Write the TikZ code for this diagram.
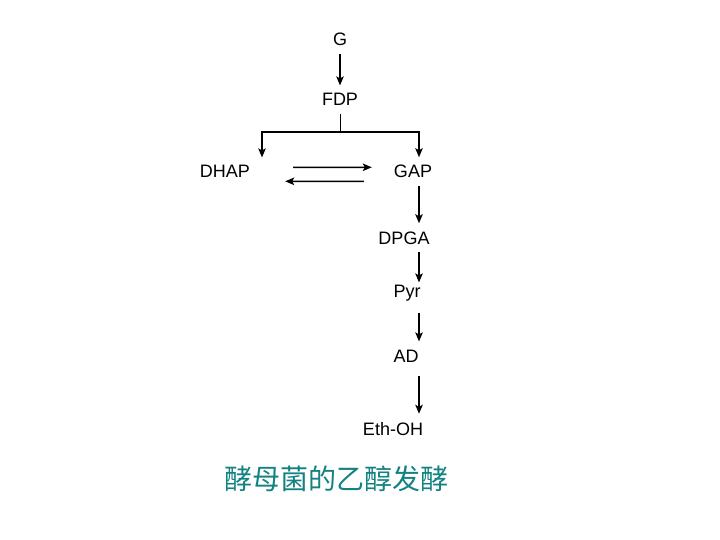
\documentclass[tikz,border=0pt]{standalone}
\usepackage{fontspec}
\setmainfont{Liberation Sans}
\newfontfamily\cjk{Noto Sans CJK SC}
\usetikzlibrary{positioning,calc}
\usetikzlibrary{arrows.meta}
\definecolor{TitleTeal}{RGB}{20,130,130}
\tikzset{
  lbl/.style={inner sep=0pt,anchor=base,font=\fontsize{18}{20}\selectfont},
  eq/.style={draw=black,line width=1.5pt,-{Stealth[length=9pt,width=7.5pt,inset=2pt]}},
  flow/.style={eq,shorten <=8pt,shorten >=8pt},
  branch/.style={eq,shorten >=8pt},
  stem/.style={draw=black,line width=0.8pt,shorten <=8pt},
  title/.style={inner sep=0pt,anchor=base,text=TitleTeal,font=\cjk\fontsize{28}{30}\selectfont},
}

\begin{document}
\begin{tikzpicture}[x=1pt,y=-1pt]
\useasboundingbox (0,0) rectangle (720,540);
\node[lbl] (G) at (340,45.5) {G};
\node[lbl] (FDP) at (340,106) {FDP};
\node[lbl] (DHAP) at (225,178) {DHAP};
\node[lbl] (GAP) at (413,178) {GAP};
\node[lbl] (DPGA) at (404,244) {DPGA};
\node[lbl] (Pyr) at (407,297) {Pyr};
\node[lbl] (AD) at (406,362) {AD};
\node[lbl] (EthOH) at (393,435) {Eth-OH};
\node[title] (name) at (336,489) {酵母菌的乙醇发酵};
% branch points
\coordinate (br) at (340,132);
\coordinate (bl) at (262,132);
\coordinate (sp) at (419,132);
\draw[flow] (G.south) -- (FDP.north);
\draw[stem] (FDP.south) -- (br);
\draw[branch] (br) -| (DHAP.north -| bl);
\draw[branch] (br) -| (GAP.north -| sp);
\draw[eq] ([xshift=43pt,yshift=4.5pt]DHAP.east) -- ([xshift=-22pt,yshift=4.5pt]GAP.west);
\draw[eq] ([xshift=-30pt,yshift=-9.5pt]GAP.west) -- ([xshift=35pt,yshift=-9.5pt]DHAP.east);
\draw[flow] (GAP.south -| sp) -- (DPGA.north -| sp);
\draw[flow] (DPGA.south -| sp) -- ([yshift=-6pt]Pyr.north -| sp);
\draw[flow] ([yshift=-4pt]Pyr.south -| sp) -- (AD.north -| sp);
\draw[flow] ([yshift=-6pt]AD.south -| sp) -- (EthOH.north -| sp);
\end{tikzpicture}
\end{document}
